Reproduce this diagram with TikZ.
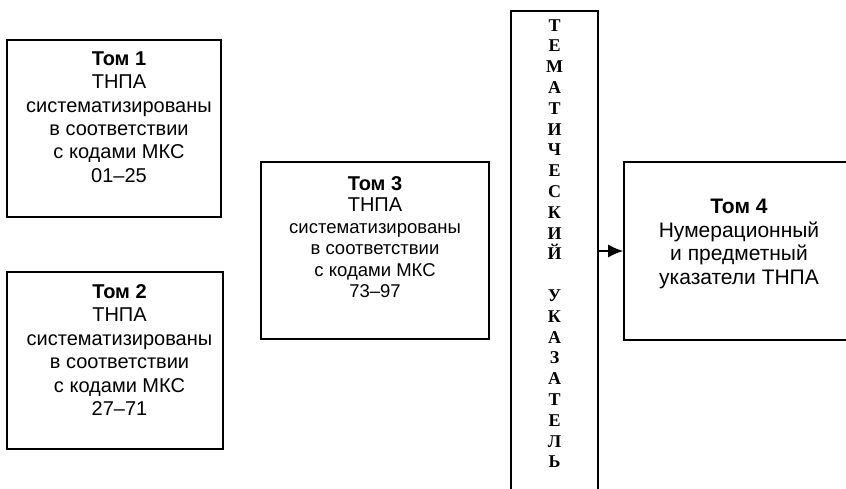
\documentclass[tikz,border=0pt]{standalone}
\usepackage{fontspec}
\setmainfont{Liberation Sans}
\newfontfamily\serifb{Liberation Serif}
\usetikzlibrary{arrows.meta}
\tikzset{
  box/.style={draw, rectangle, inner sep=0pt, line width=1.6pt},
  txt/.style={align=center, inner sep=0pt, font=\fontsize{20}{23.4}\selectfont},
  smalltxt/.style={align=center, inner sep=0pt, font=\fontsize{18.5}{21.5}\selectfont},
  vtxt/.style={align=center, inner sep=0pt, font=\serifb\bfseries\fontsize{18}{20.8}\selectfont},
  conn/.style={line width=1.6pt, -{Latex[length=15pt,width=13pt]}}
}
\begin{document}
\begin{tikzpicture}[x=1pt,y=-1pt]
\useasboundingbox (0,0) rectangle (846,488);
% boxes
\node[box, minimum width=214pt, minimum height=177pt] (b1) at (114,128.5) {};
\node[box, minimum width=216pt, minimum height=177pt] (b2) at (115,360.5) {};
\node[box, minimum width=228pt, minimum height=177pt] (b3) at (375,250.5) {};
\node[box, minimum width=87pt, minimum height=489pt] (vb) at (554.5,255.5) {};
\node[box, minimum width=246pt, minimum height=178pt] (b4) at (747,251) {};
% texts
\node[txt] (t1) at (119,117) {\textbf{Том 1}\\ТНПА\\систематизированы\\в соответствии\\с кодами МКС\\01--25};
\node[txt] (t2) at (119.5,350) {\textbf{Том 2}\\ТНПА\\систематизированы\\в соответствии\\с кодами МКС\\27--71};
\node[smalltxt] (t3) at (375,237) {{\fontsize{20}{22}\selectfont\textbf{Том 3}}\\{\fontsize{20}{22}\selectfont ТНПА}\\систематизированы\\в соответствии\\с кодами МКС\\73--97};
\node[txt, font=\fontsize{21}{23.5}\selectfont] (t4) at (739,244) {\textbf{Том 4}\\Нумерационный\\и предметный\\указатели ТНПА};
\node[vtxt] (tv) at (554.5,243.5) {Т\\Е\\М\\А\\Т\\И\\Ч\\Е\\С\\К\\И\\Й\\[20.8pt]У\\К\\А\\З\\А\\Т\\Е\\Л\\Ь};
% connector
\draw[conn] (vb.east |- b4.west) -- (b4.west);
\end{tikzpicture}
\end{document}
